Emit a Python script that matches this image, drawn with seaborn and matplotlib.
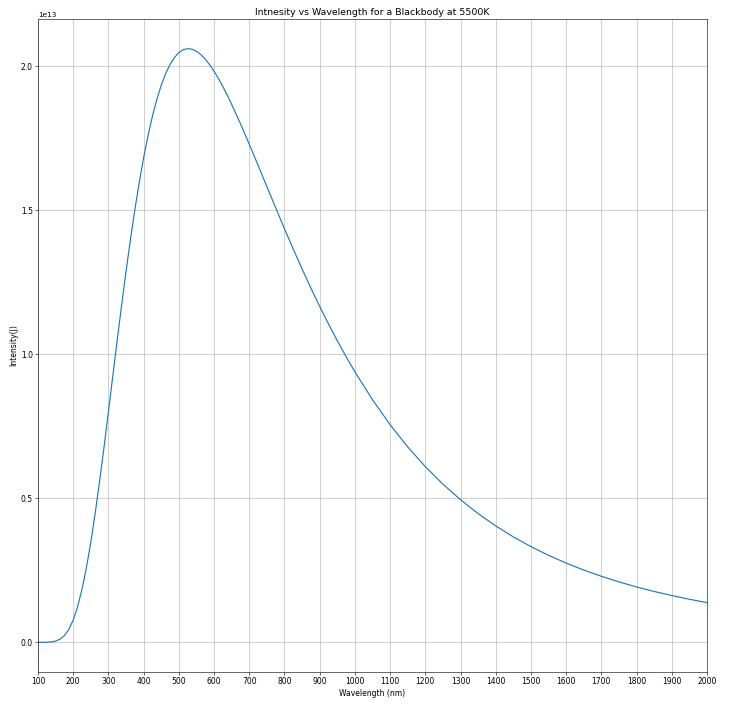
import matplotlib
matplotlib.use("Agg")
import matplotlib.pyplot as plt
import seaborn as sns
import numpy as np
import pandas as pd

# Wavelength (nm)
wavelength_nm = [100, 125, 137.5, 150, 162.5, 175, 187.5, 200, 212.5, 225, 237.5,
                 250, 262.5, 275, 287.5, 300, 312.5, 325, 337.5, 350, 362.5,
                 375, 387.5, 400, 412.5, 425, 437.5, 450, 462.5, 475, 487.5,
                 500, 512.5, 525, 537.5, 550, 562.5, 575, 587.5, 600, 612.5,
                 625, 637.5, 650, 675, 700, 725, 750, 775, 800, 825, 850, 875,
                 900, 925, 950, 975, 1000, 1050, 1100, 1150, 1200, 1250, 1300,
                 1350, 1400, 1450, 1500, 1550, 1600, 1650, 1700, 1750, 1800,
                 1850, 1900, 1950, 2000]
# Intensity, in units of 1e13
intensity_e13 = [0.0, 0.0003, 0.0013, 0.0042, 0.0107, 0.0234, 0.0448, 0.0777,
                 0.1238, 0.1843, 0.2594, 0.3482, 0.4491, 0.5598, 0.6779,
                 0.8006, 0.9253, 1.0495, 1.1709, 1.2878, 1.3985, 1.5017,
                 1.5967, 1.6828, 1.7594, 1.8270, 1.8850, 1.9343, 1.9744,
                 2.0065, 2.0306, 2.0474, 2.0575, 2.0612, 2.0593, 2.0521,
                 2.0406, 2.0248, 2.0054, 1.9828, 1.9573, 1.9295, 1.8996,
                 1.8678, 1.8007, 1.7295, 1.6563, 1.5825, 1.5087, 1.4360,
                 1.3652, 1.2964, 1.2300, 1.1663, 1.1053, 1.0472, 0.9918,
                 0.9392, 0.8424, 0.7557, 0.6786, 0.6100, 0.5491, 0.4950,
                 0.4469, 0.4042, 0.3661, 0.3323, 0.3021, 0.2751, 0.2509,
                 0.2293, 0.2098, 0.1923, 0.1766, 0.1624, 0.1495, 0.1379]
x_ticks = list(range(100, 2001, 100))

df = pd.DataFrame({"wavelength": wavelength_nm,
                   "intensity": np.array(intensity_e13) * 1e13})

DPI = 52
fig, ax = plt.subplots(figsize=(742 / DPI, 705 / DPI), dpi=DPI)
fig.subplots_adjust(left=38 / 742, right=707 / 742, bottom=1 - 672 / 705, top=1 - 19 / 705)

sns.lineplot(data=df, x="wavelength", y="intensity", ax=ax, color="#1f77b4",
             linewidth=1.6)
ax.set_xlim(100, 2000)
ax.set_xticks(x_ticks)
ax.grid(True)
ax.set_title("Intnesity vs Wavelength for a Blackbody at 5500K", fontsize=13)
ax.set_xlabel("Wavelength (nm)", fontsize=10.5)
ax.set_ylabel("Intensity(J)", fontsize=10.5)
ax.tick_params(labelsize=10.5)

fig.savefig("out.png", dpi=DPI)
